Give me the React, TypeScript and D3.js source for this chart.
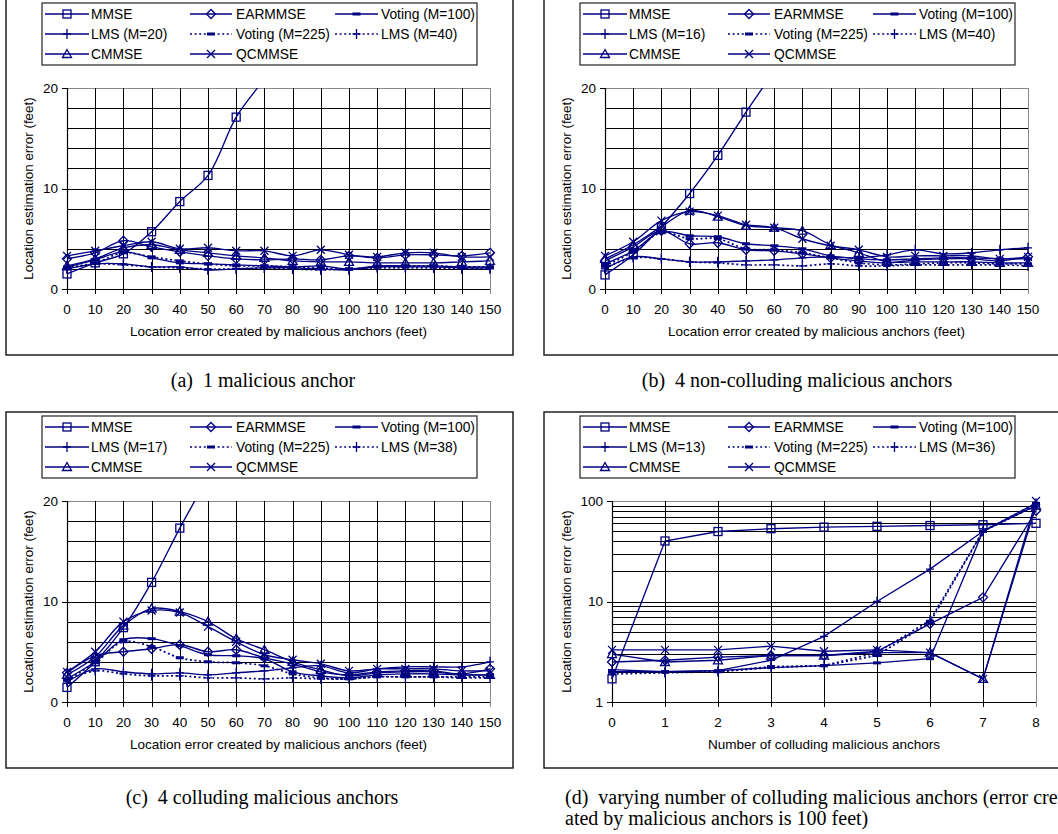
import * as d3 from 'd3';

// x categories
const errorSteps = [0, 10, 20, 30, 40, 50, 60, 70, 80, 90, 100, 110, 120, 130, 140, 150];
const colluders = [0, 1, 2, 3, 4, 5, 6, 7, 8];

// (a) 1 malicious anchor
const mmseA = [1.5, 2.6, 3.5, 5.7, 8.7, 11.3, 17.1, 21, 26];
const earmmseA = [3.0, 3.6, 4.8, 4.2, 3.7, 3.3, 3.0, 2.9, 3.0, 2.9, 3.3, 3.1, 3.4, 3.4, 3.3, 3.6];
const voting100A = [2.2, 2.9, 3.7, 3.1, 2.6, 2.5, 2.4, 2.3, 2.2, 2.3, 2.0, 2.3, 2.3, 2.3, 2.2, 2.2];
const lmsLowA = [2.0, 2.5, 2.5, 2.2, 2.2, 1.9, 2.0, 2.1, 2.1, 2.0, 1.9, 2.2, 2.2, 2.2, 2.1, 2.1];
const voting225A = [2.1, 2.6, 3.6, 3.2, 2.8, 2.5, 2.3, 2.3, 2.2, 2.1, 2.0, 2.2, 2.3, 2.3, 2.2, 2.2];
const lmsHighA = [2.1, 2.5, 2.4, 2.2, 2.1, 2.0, 2.0, 2.1, 2.0, 1.9, 2.0, 2.1, 2.1, 2.1, 2.0, 2.0];
const cmmseA = [2.3, 3.0, 4.1, 4.4, 3.9, 3.6, 3.3, 3.1, 2.8, 2.7, 2.7, 2.6, 2.6, 2.6, 2.7, 2.8];
const qcmmseA = [3.3, 3.8, 4.3, 4.7, 4.0, 4.1, 3.8, 3.8, 3.3, 3.9, 3.4, 3.2, 3.6, 3.6, 3.2, 3.2];

// (b) 4 non-colluding malicious anchors
const mmseB = [1.4, 3.4, 6.2, 9.5, 13.3, 17.6, 21.8, 27];
const earmmseB = [2.8, 4.2, 5.8, 4.5, 4.6, 3.9, 3.8, 3.5, 3.1, 2.8, 2.6, 2.9, 3.0, 3.0, 2.8, 3.2];
const voting100B = [2.5, 3.8, 5.7, 5.3, 5.2, 4.5, 4.3, 4.0, 3.3, 3.0, 2.9, 3.0, 3.1, 3.1, 3.0, 3.0];
const lmsLowB = [2.0, 3.2, 3.0, 2.7, 2.7, 2.8, 2.9, 3.1, 3.2, 3.1, 3.4, 3.9, 3.5, 3.6, 3.9, 4.1];
const voting225B = [2.3, 3.7, 5.6, 5.0, 5.0, 4.0, 3.9, 3.6, 3.1, 2.6, 2.4, 2.5, 2.6, 2.6, 2.5, 2.5];
const lmsHighB = [2.1, 3.1, 3.0, 2.7, 2.6, 2.4, 2.4, 2.3, 2.5, 2.3, 2.3, 2.4, 2.4, 2.4, 2.4, 2.3];
const cmmseB = [3.0, 4.4, 6.2, 7.8, 7.2, 6.3, 6.1, 5.8, 4.4, 3.6, 2.7, 2.7, 2.7, 2.7, 2.6, 2.6];
const qcmmseB = [3.3, 4.7, 6.8, 7.7, 7.3, 6.4, 6.1, 5.0, 4.3, 3.9, 3.2, 3.3, 3.3, 3.3, 3.0, 3.2];

// (c) 4 colluding malicious anchors
const mmseC = [1.45, 4.0, 7.4, 11.9, 17.3, 22.5, 29];
const earmmseC = [2.9, 4.6, 5.0, 5.3, 5.7, 5.0, 5.2, 4.4, 3.8, 3.0, 2.7, 3.0, 3.1, 3.1, 2.8, 3.3];
const voting100C = [2.3, 4.0, 6.2, 6.3, 5.6, 4.7, 4.6, 4.3, 3.0, 2.6, 2.4, 2.7, 2.8, 2.8, 2.7, 2.7];
const lmsLowC = [2.0, 3.3, 3.0, 2.8, 2.9, 2.7, 2.9, 3.1, 3.4, 3.6, 2.9, 3.3, 3.5, 3.5, 3.5, 4.0];
const voting225C = [2.2, 3.9, 6.0, 5.5, 4.4, 4.0, 3.9, 3.6, 2.8, 2.4, 2.3, 2.5, 2.5, 2.5, 2.5, 2.5];
const lmsHighC = [2.2, 3.1, 2.8, 2.6, 2.6, 2.4, 2.4, 2.3, 2.4, 2.3, 2.3, 2.5, 2.5, 2.5, 2.4, 2.4];
const cmmseC = [2.7, 4.5, 7.6, 9.3, 9.0, 8.0, 6.3, 5.2, 4.0, 3.2, 2.6, 2.9, 3.0, 3.0, 2.7, 2.7];
const qcmmseC = [3.0, 5.0, 8.0, 9.1, 8.9, 7.5, 6.0, 4.7, 4.2, 3.8, 3.1, 3.3, 3.3, 3.3, 3.1, 3.1];

// (d) varying number of colluding malicious anchors
const mmseD = [1.7, 40, 49.7, 53, 55, 56, 57, 58, 60];
const earmmseD = [2.5, 2.6, 2.8, 2.9, 2.9, 3.2, 6.0, 11, 80];
const voting100D = [2.0, 2.0, 2.05, 2.2, 2.3, 2.45, 2.7, 50, 90];
const lmsLowD = [2.1, 2.0, 2.05, 2.6, 4.5, 10, 21, 50, 95];
const voting225D = [2.0, 2.0, 2.0, 2.25, 2.3, 2.9, 6.2, 50, 95];
const lmsHighD = [1.9, 1.95, 2.0, 2.2, 2.3, 3.1, 6.5, 50, 90];
const cmmseD = [3.0, 2.5, 2.6, 2.9, 2.9, 3.1, 3.1, 1.7, 90];
const qcmmseD = [3.3, 3.3, 3.3, 3.6, 3.2, 3.3, 3.1, 1.7, 100];

const NAVY = '#000080';
const SANS = '"Liberation Sans", Arial, sans-serif';
const SERIF = '"Liberation Serif", "Times New Roman", serif';

type Mark = 'square' | 'diamond' | 'dash' | 'plus' | 'triangle' | 'cross';
interface Series { label: string; values: number[]; mark: Mark; dotted: boolean }

function makeSeries(v: number[][], lmsLow: string, lmsHigh: string): Series[] {
  return [
    { label: 'MMSE', values: v[0], mark: 'square', dotted: false },
    { label: 'EARMMSE', values: v[1], mark: 'diamond', dotted: false },
    { label: 'Voting (M=100)', values: v[2], mark: 'dash', dotted: false },
    { label: `LMS (M=${lmsLow})`, values: v[3], mark: 'plus', dotted: false },
    { label: 'Voting (M=225)', values: v[4], mark: 'dash', dotted: true },
    { label: `LMS (M=${lmsHigh})`, values: v[5], mark: 'plus', dotted: true },
    { label: 'CMMSE', values: v[6], mark: 'triangle', dotted: false },
    { label: 'QCMMSE', values: v[7], mark: 'cross', dotted: false },
  ];
}

function Marker({ m, x, y }: { m: Mark; x: number; y: number }) {
  const s = { fill: 'none', stroke: NAVY, strokeWidth: 1.3 };
  if (m === 'square') return <rect x={x - 4} y={y - 4} width={8} height={8} {...s} />;
  if (m === 'diamond') return <path d={`M${x},${y - 4.5}L${x + 4.5},${y}L${x},${y + 4.5}L${x - 4.5},${y}Z`} {...s} />;
  if (m === 'triangle') return <path d={`M${x},${y - 4.5}L${x + 4.5},${y + 3.5}L${x - 4.5},${y + 3.5}Z`} {...s} />;
  if (m === 'cross') return <path d={`M${x - 4},${y - 4}L${x + 4},${y + 4}M${x + 4},${y - 4}L${x - 4},${y + 4}`} {...s} />;
  if (m === 'plus') return <path d={`M${x},${y - 5}L${x},${y + 5}M${x - 4},${y}L${x + 4},${y}`} {...s} />;
  return <rect x={x - 4} y={y - 1.5} width={8} height={3} fill={NAVY} />;
}

interface PanelProps {
  id: string;
  bx: number; by: number; bw: number;
  x0: number; x1: number;
  xs: number[];
  series: Series[];
  log: boolean;
  xTitle: string;
  yTitleX: number;
}

function Panel({ id, bx, by, bw, x0, x1, xs, series, log, xTitle, yTitleX }: PanelProps) {
  const yTop = by + 89;
  const yBot = by + 290;
  const x = d3.scaleLinear().domain([xs[0], xs[xs.length - 1]]).range([x0, x1]);
  const y = log
    ? d3.scaleLog().domain([1, 100]).range([yBot, yTop])
    : d3.scaleLinear().domain([0, 20]).range([yBot, yTop]);
  const gridY = log ? (y as d3.ScaleLogarithmic<number, number>).ticks() : (y as d3.ScaleLinear<number, number>).ticks(10);
  const labelY = log ? [1, 10, 100] : [0, 10, 20];
  const line = d3.line<[number, number]>()
    .x(d => x(d[0]))
    .y(d => y(d[1]))
    .curve(log ? d3.curveLinear : d3.curveCatmullRom.alpha(0.5));

  const lx = bx + 36, ly = by + 4;
  const cols = [
    { l0: 3, l1: 47, t: 49 },
    { l0: 148, l1: 190, t: 194 },
    { l0: 293, l1: 336, t: 339 },
  ];

  return (
    <g>
      <defs>
        <clipPath id={id}>
          <rect x={x0 - 8} y={log ? yTop - 8 : yTop} width={x1 - x0 + 16} height={yBot - yTop + (log ? 16 : 8)} />
        </clipPath>
      </defs>
      <rect x={bx} y={by} width={bw} height={356} fill="white" stroke="#111" strokeWidth={1.4} />

      {/* grid */}
      {gridY.map(v => (
        <line key={'gy' + v} x1={x0} x2={x1} y1={Math.round(y(v)) + 0.5} y2={Math.round(y(v)) + 0.5}
          stroke={v === (log ? 100 : 20) ? '#888' : '#000'} strokeWidth={1} />
      ))}
      {xs.map((v, i) => (
        <line key={'gx' + v} x1={Math.round(x(v)) + 0.5} x2={Math.round(x(v)) + 0.5} y1={yTop} y2={yBot + 5}
          stroke={i === xs.length - 1 ? '#888' : '#000'} strokeWidth={1} />
      ))}
      <line x1={x0 + 0.5} x2={x0 + 0.5} y1={yTop} y2={yBot} stroke="#000" strokeWidth={1.2} />
      <line x1={x0} x2={x1} y1={Math.round(yBot) + 0.5} y2={Math.round(yBot) + 0.5} stroke="#000" strokeWidth={1.2} />

      {/* y labels */}
      {labelY.map(v => (
        <g key={'ly' + v}>
          <line x1={x0 - 5} x2={x0} y1={Math.round(y(v)) + 0.5} y2={Math.round(y(v)) + 0.5} stroke="#000" />
          <text x={x0 - 9} y={y(v)} textAnchor="end" dominantBaseline="central" fontSize={13.5} fontFamily={SANS}>{v}</text>
        </g>
      ))}
      {xs.map(v => (
        <text key={'lx' + v} x={x(v)} y={yBot + 24.5} textAnchor="middle" fontSize={13.5} fontFamily={SANS}>{v}</text>
      ))}
      <text x={(x0 + x1) / 2} y={yBot + 47} textAnchor="middle" fontSize={13.5} fontFamily={SANS}>{xTitle}</text>
      <text transform={`translate(${yTitleX},${(yTop + yBot) / 2}) rotate(-90)`} textAnchor="middle"
        dominantBaseline="central" fontSize={13.4} fontFamily={SANS}>Location estimation error (feet)</text>

      {/* series */}
      <g clipPath={`url(#${id})`}>
        {series.map(s => {
          const pts = s.values.map((v, i) => [xs[i], v] as [number, number]);
          return (
            <g key={s.label}>
              <path d={line(pts) ?? ''} fill="none" stroke={NAVY}
                strokeWidth={s.dotted ? 1.7 : 1.35} strokeDasharray={s.dotted ? '2 2.6' : undefined} />
              {pts.map((p, i) => <Marker key={i} m={s.mark} x={x(p[0])} y={y(p[1])} />)}
            </g>
          );
        })}
      </g>

      {/* legend */}
      <rect x={lx} y={ly} width={435} height={62} fill="white" stroke="#333" strokeWidth={1.3} />
      {series.map((s, i) => {
        const c = cols[i % 3];
        const ry = ly + 11 + Math.floor(i / 3) * 20;
        const mid = lx + (c.l0 + c.l1) / 2;
        return (
          <g key={'lg' + s.label}>
            <line x1={lx + c.l0} x2={lx + c.l1} y1={ry} y2={ry} stroke={NAVY}
              strokeWidth={s.dotted ? 1.7 : 1.35} strokeDasharray={s.dotted ? '2 2.6' : undefined} />
            <Marker m={s.mark} x={mid} y={ry} />
            <text x={lx + c.t} y={ry} dominantBaseline="central" fontSize={13.8} fontFamily={SANS}>{s.label}</text>
          </g>
        );
      })}
    </g>
  );
}

export default function App() {
  const seriesA = makeSeries([mmseA, earmmseA, voting100A, lmsLowA, voting225A, lmsHighA, cmmseA, qcmmseA], '20', '40');
  const seriesB = makeSeries([mmseB, earmmseB, voting100B, lmsLowB, voting225B, lmsHighB, cmmseB, qcmmseB], '16', '40');
  const seriesC = makeSeries([mmseC, earmmseC, voting100C, lmsLowC, voting225C, lmsHighC, cmmseC, qcmmseC], '17', '38');
  const seriesD = makeSeries([mmseD, earmmseD, voting100D, lmsLowD, voting225D, lmsHighD, cmmseD, qcmmseD], '13', '36');
  const xTitle = 'Location error created by malicious anchors (feet)';
  const cap = { fontFamily: SERIF, fontSize: 20, style: { whiteSpace: 'pre' as const } };

  return (
    <svg width={1058} height={834} style={{ position: 'absolute', left: 0, top: 0, background: 'white' }}>
      <Panel id="clipA" bx={6} by={-1} bw={507} x0={67} x1={490} xs={errorSteps} series={seriesA} log={false} xTitle={xTitle} yTitleX={28} />
      <Panel id="clipB" bx={544} by={-1} bw={520} x0={605} x1={1028} xs={errorSteps} series={seriesB} log={false} xTitle={xTitle} yTitleX={566} />
      <Panel id="clipC" bx={6} by={412} bw={507} x0={67} x1={490} xs={errorSteps} series={seriesC} log={false} xTitle={xTitle} yTitleX={28} />
      <Panel id="clipD" bx={544} by={412} bw={520} x0={612} x1={1036} xs={colluders} series={seriesD} log={true}
        xTitle="Number of colluding malicious anchors" yTitleX={566} />

      <text x={263} y={387} textAnchor="middle" {...cap}>(a)  1 malicious anchor</text>
      <text x={797} y={387} textAnchor="middle" {...cap}>(b)  4 non-colluding malicious anchors</text>
      <text x={262} y={804} textAnchor="middle" {...cap}>(c)  4 colluding malicious anchors</text>
      <text x={565} y={804} {...cap}>(d)  varying number of colluding malicious anchors (error cre-</text>
      <text x={565} y={825} {...cap}>ated by malicious anchors is 100 feet)</text>
    </svg>
  );
}
